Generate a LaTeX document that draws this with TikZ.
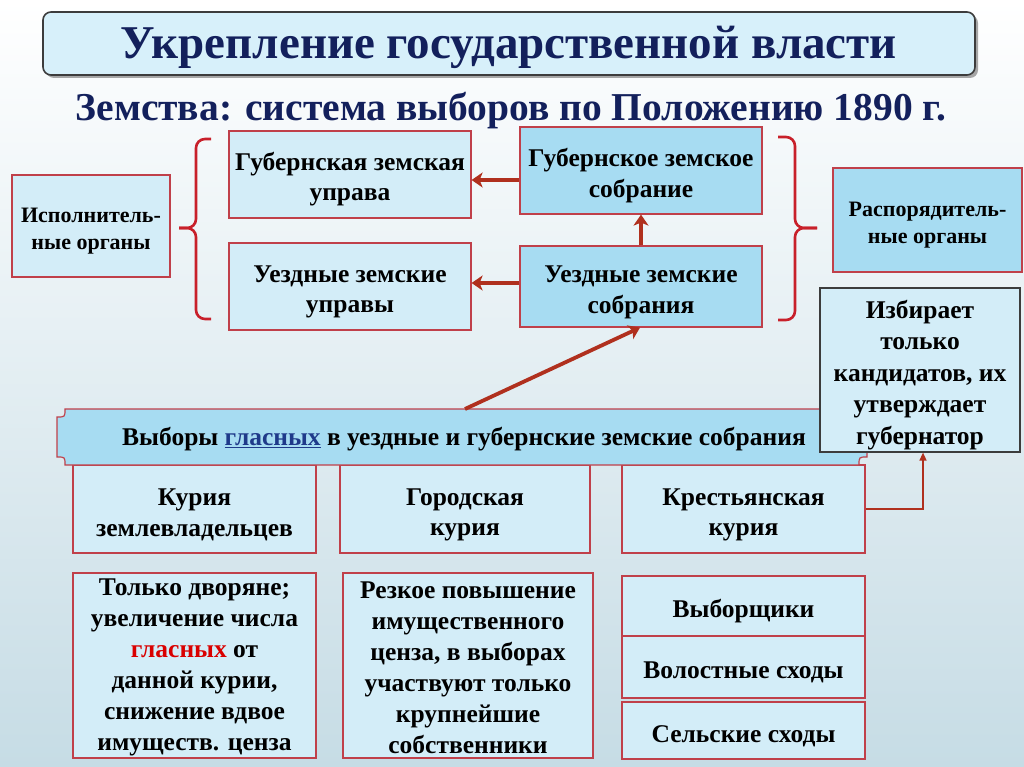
\documentclass[tikz,border=0pt]{standalone}
\usepackage{fontspec}
\setmainfont{Liberation Serif}
\usetikzlibrary{arrows.meta,positioning}

\definecolor{navy}{HTML}{13205C}
\definecolor{linkblue}{HTML}{1F3A8A}
\definecolor{boxred}{HTML}{C0404A}
\definecolor{arrowred}{HTML}{B0301E}
\definecolor{bracered}{HTML}{C8202A}
\definecolor{palefill}{HTML}{D3EDF8}
\definecolor{deepfill}{HTML}{A7DCF2}
\definecolor{titlefill}{HTML}{D7F0FA}
\definecolor{edgegray}{HTML}{3C3C3C}
\definecolor{bgbottom}{HTML}{C6DCE5}

% strut that sets the first line a little lower in its box
\newcommand{\lift}[1][28pt]{\rule{0pt}{#1}}

\tikzset{
  base/.style={draw=boxred, line width=1.2pt, align=center, inner sep=1pt,
    font=\bfseries\fontsize{25.5}{30.5}\selectfont},
  pale/.style={base, fill=palefill},
  deep/.style={base, fill=deepfill},
  small/.style={font=\bfseries\fontsize{22}{27}\selectfont},
  link/.style={draw=arrowred, line width=3.8pt,
    -{Stealth[length=11pt, width=15pt, inset=3pt]}},
  thinlink/.style={draw=arrowred, line width=1.4pt,
    -{Triangle[length=8pt, width=7pt]}},
  bracket/.style={draw=bracered, line width=2.6pt, rounded corners=9pt},
}

\begin{document}
\begin{tikzpicture}[x=1pt, y=-1pt]

  % -- Background --
  \useasboundingbox (0,0) rectangle (1024,767);
  \shade[top color=white, bottom color=bgbottom] (0,0) rectangle (1024,767);

  % -- Headings --
  \fill[black!35, rounded corners=8pt] (46,15) rectangle (978,78);
  \node[draw=edgegray, line width=1.6pt, fill=titlefill, rounded corners=8pt,
    minimum width=932pt, minimum height=63pt, text=navy,
    font=\bfseries\fontsize{47}{50}\selectfont] (title) at (509,43.5)
    {\lift[40pt]Укрепление государственной власти};
  \node[text=navy, font=\bfseries\fontsize{39.5}{44}\selectfont] (subtitle)
    at (511,111) {Земства: система выборов по Положению 1890 г.};

  % -- Executive and administrative bodies --
  \node[pale, small, minimum width=158pt, minimum height=102pt] (exec) at (91,226)
    {\lift[24pt]Исполнитель-\\ные органы};
  \node[pale, minimum width=242pt, minimum height=87pt] (gupr) at (350,174.5)
    {\lift Губернская земская\\управа};
  \node[pale, minimum width=242pt, minimum height=87pt] (uupr) at (350,286.5)
    {\lift Уездные земские\\управы};
  \node[deep, minimum width=242pt, minimum height=87pt] (gsob) at (641,170.5)
    {\lift Губернское земское\\собрание};
  \node[deep, minimum width=242pt, minimum height=81pt] (usob) at (641,286.5)
    {\lift Уездные земские\\собрания};
  \node[deep, small, minimum width=189pt, minimum height=104pt] (rasp) at (927.5,220)
    {\lift[24pt]Распорядитель-\\ные органы};

  % Braces
  \draw[bracket] (211,139) -- (196,139) -- (196,228) -- (179,228);
  \draw[bracket] (179,228) -- (196,228) -- (196,319) -- (211,319);
  \draw[bracket] (778,137) -- (795,137) -- (795,228) -- (817,228);
  \draw[bracket] (817,228) -- (795,228) -- (795,320) -- (778,320);

  % -- Curiae --
  \node[pale, minimum width=243pt, minimum height=88pt] (k1) at (194.5,509)
    {\lift Курия\\землевладельцев};
  \node[pale, minimum width=250pt, minimum height=88pt] (k2) at (465,509)
    {\lift Городская\\курия};
  \node[pale, minimum width=243pt, minimum height=88pt] (k3) at (743.5,509)
    {\lift Крестьянская\\курия};

  % Election banner
  \draw[draw=boxred, line width=1.2pt, fill=deepfill]
    (65,409) -- (859,409) .. controls (859,417) .. (867,417)
    -- (867,457) .. controls (859,457) .. (859,465)
    -- (65,465) .. controls (65,457) .. (57,457)
    -- (57,417) .. controls (65,417) .. (65,409) -- cycle;
  \node[font=\bfseries\fontsize{25.5}{30}\selectfont] (vyb) at (464,439)
    {Выборы \textcolor{linkblue}{\underline{гласных}} в уездные и губернские земские собрания};
  \coordinate (vybtop) at (465,409);

  \node[pale, draw=edgegray, minimum width=200pt, minimum height=164pt,
    font=\bfseries\fontsize{25.5}{31.5}\selectfont] (izb) at (920,370)
    {\lift Избирает\\только\\кандидатов, их\\утверждает\\губернатор};

  % -- Details --
  \node[pale, minimum width=243pt, minimum height=185pt,
    font=\bfseries\fontsize{25.5}{31}\selectfont] (b1) at (194.5,665.5)
    {\lift[21pt]Только дворяне;\\увеличение числа\\\textcolor{red!85!black}{гласных} от\\данной курии,\\снижение вдвое\\имуществ. ценза};
  \node[pale, minimum width=250pt, minimum height=185pt,
    font=\bfseries\fontsize{25.5}{31}\selectfont] (b2) at (468,665.5)
    {\lift[21pt]Резкое повышение\\имущественного\\ценза, в выборах\\участвуют только\\крупнейшие\\собственники};
  \node[pale, minimum width=243pt, minimum height=60pt] (c1) at (743.5,606)
    {\lift Выборщики};
  \node[pale, minimum width=243pt, minimum height=62pt] (c2) at (743.5,667)
    {\lift Волостные сходы};
  \node[pale, minimum width=243pt, minimum height=57pt] (c3) at (743.5,730.5)
    {\lift Сельские сходы};

  % -- Connectors --
  \draw[link] (gsob.west |- 0,180) -- (gupr.east |- 0,180);
  \draw[link] (usob.west |- 0,283) -- (uupr.east |- 0,283);
  \draw[link] (usob.north) -- (gsob.south);
  \draw[link] (vybtop) -- ([xshift=-1pt]usob.south);
  \draw[thinlink] (k3.east) -- (923,509) -- (izb.south -| 923,0);

\end{tikzpicture}
\end{document}
